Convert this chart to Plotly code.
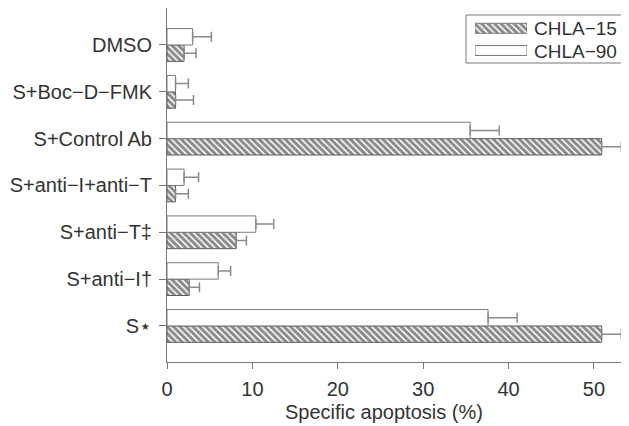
import plotly.graph_objects as go

categories = ["S\u22c6", "S+anti\u2212I\u2020", "S+anti\u2212T\u2021", "S+anti\u2212I+anti\u2212T",
              "S+Control Ab", "S+Boc\u2212D\u2212FMK", "DMSO"]
chla15 = [50.9, 2.6, 8.1, 1.0, 50.9, 1.0, 2.0]
chla15_err = [2.3, 1.2, 1.2, 1.5, 2.3, 2.1, 1.4]
chla90 = [37.6, 6.0, 10.4, 2.0, 35.5, 1.0, 3.0]
chla90_err = [3.4, 1.45, 2.1, 1.7, 3.4, 1.5, 2.2]
series_names = ["CHLA\u221215", "CHLA\u221290"]
x_ticks = [0, 10, 20, 30, 40, 50]
no_err = [0] * len(categories)

FONT = "Liberation Sans, Arial, sans-serif"
TXT = "#333333"
EDGE = "#5e5e5e"
ERR = "#8a8a8a"
hatch = dict(shape="\\", fgcolor="#111111", bgcolor="white", size=4.6, solidity=0.65)

fig = go.Figure()
fig.add_trace(go.Bar(
    y=categories, x=chla15, orientation="h", name=series_names[0],
    marker=dict(color="white", pattern=hatch, line=dict(color=EDGE, width=1)),
    error_x=dict(type="data", symmetric=False, array=chla15_err, arrayminus=no_err,
                 color=ERR, thickness=1.5, width=5),
    showlegend=False))
fig.add_trace(go.Bar(
    y=categories, x=chla90, orientation="h", name=series_names[1],
    marker=dict(color="white", line=dict(color="#7a7a7a", width=1)),
    error_x=dict(type="data", symmetric=False, array=chla90_err, arrayminus=no_err,
                 color=ERR, thickness=1.5, width=5),
    showlegend=False))

# custom legend swatches on a tiny helper axis
fig.add_trace(go.Bar(
    y=[0, 1], x=[1, 1], orientation="h", xaxis="x2", yaxis="y2", width=0.45,
    marker=dict(color="white", line=dict(color="#7a7a7a", width=1),
                pattern=dict(shape=["", "\\"], fgcolor="#111111", bgcolor="white",
                             size=4.6, solidity=0.65)),
    showlegend=False, hoverinfo="skip"))

# page body has an 8px margin: figure occupies (8..629, 8..426) of the window
OFF = 8
W, H = 629 - OFF, 426 - OFF
L, R, T, B = 167 - OFF, 0, 8 - OFF, 64
pw, ph = W - L - R, H - T - B

def px(x):
    return (x - OFF - L) / pw

def py(y):
    return (H - B - (y - OFF)) / ph

fig.update_layout(
    width=W, height=H,
    margin=dict(l=L, r=R, t=T, b=B, autoexpand=False),
    paper_bgcolor="white", plot_bgcolor="white",
    barmode="group", bargap=0.3, bargroupgap=0,
    font=dict(family=FONT, size=20, color=TXT),
    xaxis=dict(range=[0, 54.1], tickvals=x_ticks, ticks="outside", ticklen=6,
               tickcolor="#777", showline=True, linecolor="#777", linewidth=1,
               mirror=True, showgrid=False, zeroline=False, ticklabelstandoff=3,
               tickfont=dict(size=20, color=TXT), automargin=False),
    yaxis=dict(type="category", categoryorder="array", categoryarray=categories,
               range=[-0.77, 6.79], ticks="outside", ticklen=7, tickcolor="#777",
               showline=True, linecolor="#777", linewidth=1, showgrid=False,
               zeroline=False, ticklabelstandoff=3, automargin=False,
               tickfont=dict(size=20, color=TXT)),
    xaxis2=dict(domain=[px(475), px(527)], range=[0, 1], visible=False, anchor="y2"),
    yaxis2=dict(domain=[py(61.6), py(17.2)], range=[-0.5, 1.5], visible=False, anchor="x2"),
    shapes=[dict(type="rect", xref="paper", yref="paper",
                 x0=px(466), x1=px(625), y0=py(63), y1=py(15),
                 line=dict(color="#777", width=1), fillcolor="rgba(0,0,0,0)", layer="below")],
    annotations=[
        dict(text=series_names[0], xref="paper", yref="paper", x=px(532), y=py(29),
             xanchor="left", yanchor="middle", showarrow=False, font=dict(size=19, color=TXT)),
        dict(text=series_names[1], xref="paper", yref="paper", x=px(532), y=py(51),
             xanchor="left", yanchor="middle", showarrow=False, font=dict(size=19, color=TXT)),
        dict(text="Specific apoptosis (%)", xref="paper", yref="paper", x=px(384), y=py(412),
             xanchor="center", yanchor="middle", showarrow=False, font=dict(size=20, color=TXT)),
    ],
)

fig.write_html("out.html")
